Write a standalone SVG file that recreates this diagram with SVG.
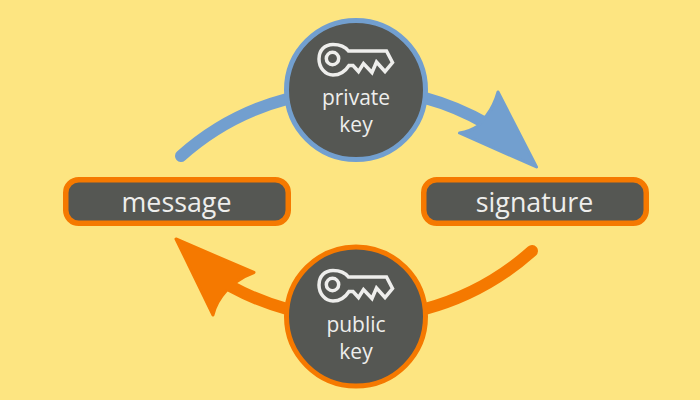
<svg xmlns="http://www.w3.org/2000/svg" xmlns:xlink="http://www.w3.org/1999/xlink" width="700" height="400" viewBox="0 0 700 400">
<style>
.box{fill:#555753;stroke:#f57900;stroke-width:5.5}
.disc{fill:#555753;stroke-width:5}
.t{font-family:"Open Sans","Noto Sans",sans-serif;fill:#eeeeec;text-anchor:middle}
.shaft{fill:none;stroke-width:12;stroke-linecap:round}
.key{fill:none;stroke:#eeeeec;stroke-width:3.500;stroke-linejoin:miter}
</style>
<defs>
<g id="keyicon">
<path class="key" d="M348.500 51C345 46.500 339 44.500 333 44.500C324.500 44.500 319 50.500 319 59C319 67.500 325 75 333 75C340.500 75 345.500 71 349 65.500L353 65.500L358.500 71.500L363.500 63.500L372 72.500L376.500 62L385 71.500L392.500 62.500L386.500 51Z"/>
<circle class="key" cx="332.500" cy="58.500" r="6.200"/>
</g>
</defs>
<rect width="700" height="400" fill="#fde581"/>
<g id="connectors">
<path class="shaft" stroke="#729fcf" d="M181 156A258 258 0 0 1 287 99"/>
<path class="shaft" stroke="#729fcf" d="M425 98A258 258 0 0 1 487 124"/>
<path fill="#729fcf" stroke="#729fcf" stroke-width="3" stroke-linejoin="round" d="M498 92L536.500 167L459.500 133Q470 131 478 126L487 115Q494 106 498 92Z"/>
<path class="shaft" stroke="#f57900" d="M532 251A265 265 0 0 1 425 309"/>
<path class="shaft" stroke="#f57900" d="M287 309A265 265 0 0 1 230 286"/>
<path fill="#f57900" stroke="#f57900" stroke-width="3" stroke-linejoin="round" d="M176 239L254 272.500Q244 276 236 282L226 291Q216 302 213 315Z"/>
</g>
<g id="node-private-key">
<circle class="disc" stroke="#729fcf" cx="356" cy="90" r="69.500"/>
<use xlink:href="#keyicon" href="#keyicon"/>
<text class="t" font-size="21" x="356" y="105">private</text>
<text class="t" font-size="21" x="356" y="132">key</text>
</g>
<g id="node-public-key">
<circle class="disc" stroke="#f57900" cx="356" cy="316.500" r="69.500"/>
<use xlink:href="#keyicon" href="#keyicon" y="226"/>
<text class="t" font-size="21" x="356" y="332">public</text>
<text class="t" font-size="21" x="356" y="359">key</text>
</g>
<g id="node-message">
<rect class="box" x="65.750" y="179.750" width="222.500" height="43.500" rx="13"/>
<text class="t" font-size="26.800" x="176.500" y="212">message</text>
</g>
<g id="node-signature">
<rect class="box" x="423.750" y="179.750" width="222.500" height="43.500" rx="13"/>
<text class="t" font-size="26.800" x="534.500" y="212">signature</text>
</g>
</svg>
